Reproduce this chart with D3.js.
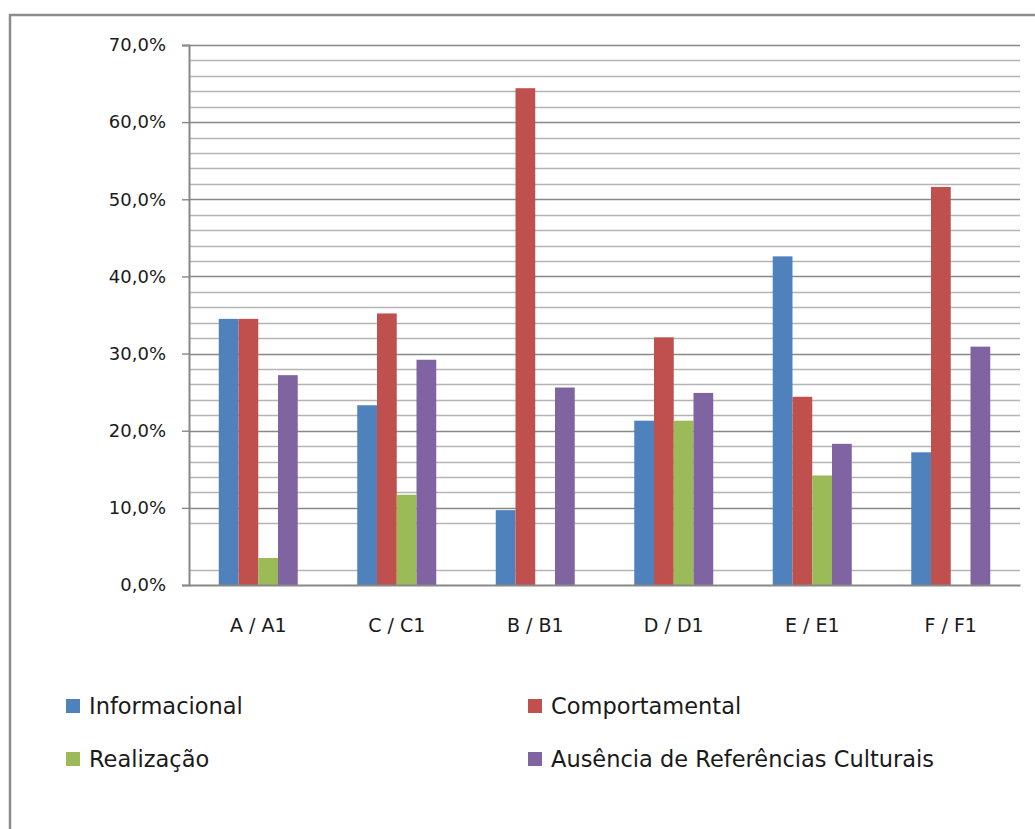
<!DOCTYPE html>
<html>
<head>
<meta charset="utf-8">
<script src="https://cdn.jsdelivr.net/npm/d3@7"></script>
<style>
  body { margin: 0; background: #fff; }
  text { font-family: "DejaVu Sans", sans-serif; fill: #1a1a1a; }
</style>
</head>
<body>
<div id="chart"></div>
<script>
var svgWidth = 1035
var svgHeight = 829

// chart data
var categories = ["A / A1", "C / C1", "B / B1", "D / D1", "E / E1", "F / F1"]
var seriesNames = ["Informacional", "Comportamental", "Realização", "Ausência de Referências Culturais"]
var informacional = [34.5, 23.3, 9.7, 21.3, 42.6, 17.2]
var comportamental = [34.5, 35.2, 64.4, 32.1, 24.4, 51.6]
var realizacao = [3.5, 11.7, 0, 21.3, 14.2, 0]
var ausencia = [27.2, 29.2, 25.6, 24.9, 18.3, 30.9]
var yTicks = [0, 10, 20, 30, 40, 50, 60, 70]
var minorTicks = [2, 8, 12, 14, 16, 18, 22, 24, 26, 28, 32, 34, 36, 38, 42, 44, 46, 48, 52, 54, 56, 58, 62, 64, 66, 68]

var colors = ["#4f81bd", "#c0504d", "#9bbb59", "#8064a2"]
var seriesValues = [informacional, comportamental, realizacao, ausencia]

var margin = {top: 45, right: 15, bottom: 244, left: 189}
var plotWidth = svgWidth - margin.left - margin.right
var plotHeight = svgHeight - margin.top - margin.bottom

var svg = d3.select("#chart")
    .append("svg")
    .attr("width", svgWidth)
    .attr("height", svgHeight)

// outer border (chart area is cropped on right/bottom)
svg.append("path")
    .attr("d", "M10," + svgHeight + " L10,15 L" + svgWidth + ",15")
    .attr("fill", "none")
    .attr("stroke", "#8c8c8c")
    .attr("stroke-width", 2.5)

var chartGroup = svg.append("g")
    .attr("transform", `translate(${margin.left}, ${margin.top})`)

var xScale = d3.scaleBand()
    .domain(categories)
    .range([0, plotWidth])

var yScale = d3.scaleLinear()
    .domain([0, 70])
    .range([plotHeight, 0])

// inner band for the four series
var groupWidth = 79
var xInner = d3.scaleBand()
    .domain(d3.range(seriesNames.length))
    .range([0, groupWidth])

// minor gridlines
chartGroup.selectAll(".minor")
    .data(minorTicks)
    .enter()
    .append("line")
    .attr("x1", 0)
    .attr("x2", plotWidth)
    .attr("y1", d => Math.round(yScale(d)) + 0.5)
    .attr("y2", d => Math.round(yScale(d)) + 0.5)
    .attr("stroke", "#b4b4b4")
    .attr("stroke-width", 1.3)

// major gridlines
chartGroup.selectAll(".major")
    .data(yTicks.slice(1))
    .enter()
    .append("line")
    .attr("x1", 0)
    .attr("x2", plotWidth)
    .attr("y1", d => Math.round(yScale(d)) + 0.5)
    .attr("y2", d => Math.round(yScale(d)) + 0.5)
    .attr("stroke", "#888")
    .attr("stroke-width", 1.4)

// bars
var table = []
categories.forEach(function(c, i) {
    seriesValues.forEach(function(vals, s) {
        table.push({cat: c, s: s, v: vals[i]})
    })
})

chartGroup.selectAll("rect")
    .data(table)
    .enter()
    .append("rect")
    .attr("x", d => xScale(d.cat) + (xScale.bandwidth() - groupWidth) / 2 + xInner(d.s))
    .attr("width", xInner.bandwidth())
    .attr("y", d => yScale(d.v))
    .attr("height", d => plotHeight - yScale(d.v))
    .attr("fill", d => colors[d.s])

// y axis
var yAxis = chartGroup.append("g")
    .call(d3.axisLeft(yScale)
        .tickValues(yTicks)
        .tickSize(7)
        .tickFormat(d => d3.format(".1f")(d).replace(".", ",") + "%"))
yAxis.select(".domain").attr("stroke", "#888").attr("stroke-width", 2)
yAxis.selectAll(".tick line").attr("stroke", "#888").attr("stroke-width", 1.4)
yAxis.selectAll(".tick text")
    .attr("x", -23)
    .attr("font-size", 18)
    .attr("fill", "#1a1a1a")
    .style("font-family", "DejaVu Sans, sans-serif")

// x axis
var xAxis = chartGroup.append("g")
    .attr("transform", "translate(0," + plotHeight + ")")
    .call(d3.axisBottom(xScale).tickSize(0).tickPadding(34))
xAxis.select(".domain").attr("stroke", "#888").attr("stroke-width", 2)
xAxis.selectAll(".tick text")
    .attr("font-size", 19)
    .attr("fill", "#1a1a1a")
    .style("font-family", "DejaVu Sans, sans-serif")

// legend
var legendPos = [[66, 699], [528, 699], [66, 752], [528, 752]]
var legend = svg.selectAll(".legend")
    .data(seriesNames)
    .enter()
    .append("g")
    .attr("transform", (d, i) => `translate(${legendPos[i][0]}, ${legendPos[i][1]})`)
legend.append("rect")
    .attr("width", 14)
    .attr("height", 14)
    .attr("fill", (d, i) => colors[i])
legend.append("text")
    .attr("x", 23)
    .attr("y", 15)
    .attr("font-size", 22.5)
    .text(d => d)
</script>
</body>
</html>
